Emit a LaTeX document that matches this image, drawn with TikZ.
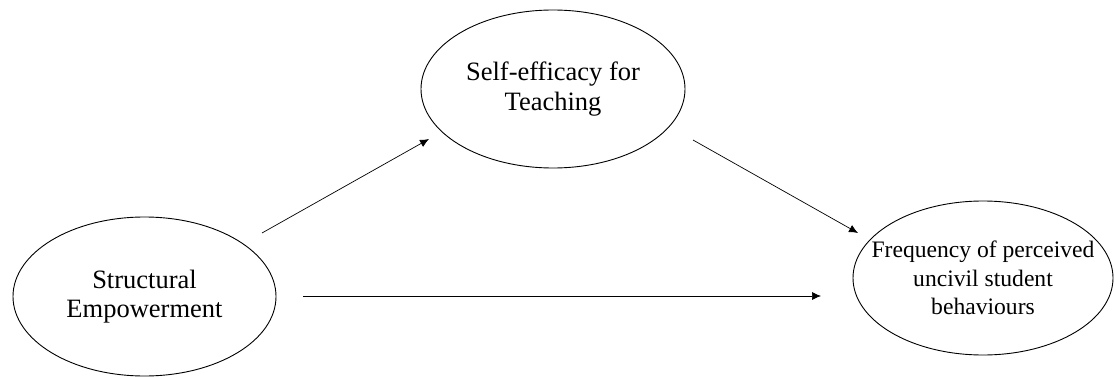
\documentclass[tikz,border=0pt]{standalone}
\usepackage{fontspec}
\setmainfont{Liberation Serif}
\usetikzlibrary{shapes.geometric,arrows.meta}
\begin{document}
\begin{tikzpicture}[x=1pt,y=-1pt,
  oval/.style={draw, ellipse, line width=0.9pt, inner sep=0pt},
  lbl/.style={align=center, inner sep=0pt, font=\fontsize{26.5}{29.5}\selectfont},
  lblsmall/.style={align=center, inner sep=0pt, font=\fontsize{23.6}{28.5}\selectfont},
  conn/.style={line width=0.7pt, -{Latex[length=9pt,width=8pt]}}]
\useasboundingbox (0,0) rectangle (1115,377);
\node[oval, minimum width=263pt, minimum height=159pt] (se) at (144.5,296.5) {};
\node[lbl] (set) at (se) {Structural\\Empowerment};
\node[oval, minimum width=264pt, minimum height=158pt] (sf) at (553,89) {};
\node[lbl] (sft) at (sf) {Self-efficacy for\\Teaching};
\node[oval, minimum width=260pt, minimum height=154pt] (fr) at (983,278) {};
\node[lblsmall] (frt) at (fr) {Frequency of perceived\\uncivil student\\behaviours};
\coordinate (a1s) at (262,233);
\coordinate (a1e) at (429,139);
\coordinate (a2s) at (693,140);
\coordinate (a2e) at (858,233);
\coordinate (a3s) at (303,296);
\coordinate (a3e) at (821,296);
\draw[conn] (a1s) -- (a1e);
\draw[conn] (a2s) -- (a2e);
\draw[conn] (a3s) -- (a3e);
\end{tikzpicture}
\end{document}
